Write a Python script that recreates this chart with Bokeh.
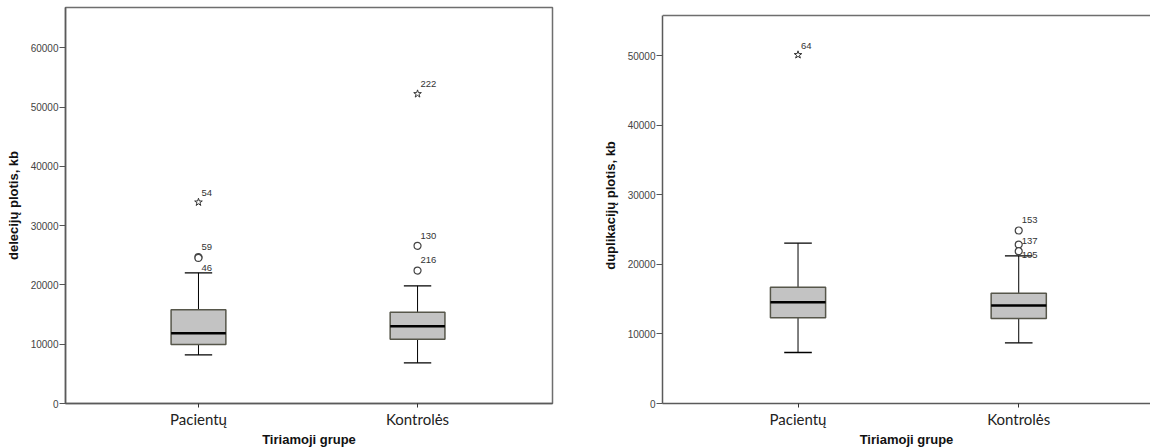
from bokeh.plotting import figure
from bokeh.layouts import row
from bokeh.models import FixedTicker, NumeralTickFormatter, Range1d, ColumnDataSource, Span
from bokeh.core.properties import value
from bokeh.embed import file_html
from bokeh.resources import INLINE

# ---------------- data ----------------
groups = ["Pacientų", "Kontrolės"]
x_title = "Tiriamoji grupe"

del_title = "delecijų plotis, kb"
del_lower = [8200, 6860]
del_q1 = [9950, 10840]
del_median = [11860, 13040]
del_q3 = [15800, 15400]
del_upper = [22050, 19850]
del_out_group = [0, 0, 1, 1]
del_out_value = [24700, 24550, 26600, 22430]
del_out_label = ["59", "46", "130", "216"]
del_ext_group = [0, 1]
del_ext_value = [33950, 52230]
del_ext_label = ["54", "222"]
del_ticks = [0, 10000, 20000, 30000, 40000, 50000, 60000]
del_axis_top = 66800

dup_title = "duplikacijų plotis, kb"
dup_lower = [7330, 8720]
dup_q1 = [12310, 12210]
dup_median = [14550, 14080]
dup_q3 = [16710, 15850]
dup_upper = [23030, 21220]
dup_out_group = [1, 1, 1]
dup_out_value = [24860, 22840, 21880]
dup_out_label = ["153", "137", "105"]
dup_ext_group = [0]
dup_ext_value = [50100]
dup_ext_label = ["64"]
dup_ticks = [0, 10000, 20000, 30000, 40000, 50000]
dup_axis_top = 55750

# ---------------- styling ----------------
# label vertical shift in screen pixels (positive = upward)
label_up = {"59": 10, "46": -10, "130": 10, "216": 11, "54": 9, "222": 10,
            "153": 10, "137": 4, "105": -4, "64": 9}
BOX_W = 0.25
CAP_W = 0.125
AXIS_COL = "#5a5a5a"
FONT = "Liberation Sans"


def make_panel(title, lower, q1, med, q3, upper, og, ov, ol, eg, ev, el, ticks,
               frame_top_val, axis_top, x_start, x_end, width_total, b_left, frame_w, outline=True):
    p = figure(width=width_total, height=448, frame_width=frame_w, frame_height=396,
               output_backend="svg", toolbar_location=None,
               x_range=Range1d(x_start, x_end), y_range=Range1d(0, frame_top_val),
               min_border_left=b_left, min_border_top=7,
               min_border_bottom=45, min_border_right=0)
    p.grid.visible = False
    p.background_fill_color = "white"
    p.border_fill_color = "white"
    if outline:
        p.outline_line_color = "#6e6e6e"
        p.outline_line_width = 1.5
    else:
        p.outline_line_color = None
        p.add_layout(Span(location=axis_top, dimension="width",
                          line_color="#6e6e6e", line_width=1.5))

    xs = [i + 1 for i in range(len(groups))]
    # whiskers
    p.segment(x0=xs, x1=xs, y0=q3, y1=upper, line_color="black", line_width=1)
    p.segment(x0=xs, x1=xs, y0=q1, y1=lower, line_color="black", line_width=1)
    p.segment(x0=[x - CAP_W / 2 for x in xs], x1=[x + CAP_W / 2 for x in xs], y0=upper, y1=upper,
              line_color="black", line_width=1.3)
    p.segment(x0=[x - CAP_W / 2 for x in xs], x1=[x + CAP_W / 2 for x in xs], y0=lower, y1=lower,
              line_color="black", line_width=1.3)
    # boxes
    p.vbar(x=xs, width=BOX_W, bottom=q1, top=q3, fill_color="#c3c3c3",
           line_color="#56564a", line_width=1.5)
    p.segment(x0=[x - BOX_W / 2 for x in xs], x1=[x + BOX_W / 2 for x in xs], y0=med, y1=med,
              line_color="black", line_width=2.6)

    # outliers
    ox = [g + 1 for g in og]
    p.scatter(x=ox, y=ov, marker="circle", size=7, fill_color="white",
              line_color="#444444", line_width=1.2)
    ex = [g + 1 for g in eg]
    p.scatter(x=ex, y=ev, marker="star", size=8, fill_color=None,
              line_color="#333333", line_width=1)

    src = ColumnDataSource(dict(x=ox + ex, y=ov + ev, t=ol + el,
                                dy=[-label_up[t] for t in ol + el]))
    p.text(x="x", y="y", text="t", source=src, x_offset=3, y_offset="dy",
           text_font=value(FONT), text_font_size="9.5px", text_color="#333333",
           text_align="left", text_baseline="middle")

    # x axis
    xa = p.xaxis[0]
    xa.ticker = FixedTicker(ticks=xs)
    xa.major_label_overrides = {x: g for x, g in zip(xs, groups)}
    xa.minor_tick_line_color = None
    xa.major_tick_in = 0
    xa.major_tick_out = 4
    xa.axis_line_color = AXIS_COL
    xa.axis_line_width = 1.5
    xa.major_tick_line_color = "#333333"
    xa.major_label_text_font = "Lato"
    xa.major_label_text_font_size = "15px"
    xa.major_label_text_color = "#222222"
    xa.major_label_standoff = 2
    xa.axis_label = x_title
    xa.axis_label_text_font = FONT
    xa.axis_label_text_font_style = "bold"
    xa.axis_label_text_font_size = "13px"
    xa.axis_label_text_color = "#111111"
    xa.axis_label_standoff = 1

    ya = p.yaxis[0]
    ya.ticker = FixedTicker(ticks=ticks)
    ya.formatter = NumeralTickFormatter(format="0")
    ya.bounds = (0, axis_top)
    ya.minor_tick_line_color = None
    ya.major_tick_in = 0
    ya.major_tick_out = 6
    ya.axis_line_color = AXIS_COL
    ya.axis_line_width = 1.5
    ya.major_tick_line_color = "#555555"
    ya.major_label_text_font = FONT
    ya.major_label_text_font_size = "10px"
    ya.major_label_text_color = "#444444"
    ya.major_label_standoff = 1
    ya.axis_label = title
    ya.axis_label_text_font = FONT
    ya.axis_label_text_font_style = "bold"
    ya.axis_label_text_font_size = "13px"
    ya.axis_label_text_color = "#111111"
    ya.axis_label_standoff = 7
    return p


p1 = make_panel(del_title, del_lower, del_q1, del_median, del_q3, del_upper,
                del_out_group, del_out_value, del_out_label,
                del_ext_group, del_ext_value, del_ext_label, del_ticks,
                frame_top_val=del_axis_top, axis_top=del_axis_top,
                x_start=0.393, x_end=2.616, width_total=560, b_left=65, frame_w=487)
p1.min_border_right = 8

# right panel: frame starts a few pixels above its top border line
dup_frame_top = dup_axis_top * 396 / 388
p2 = make_panel(dup_title, dup_lower, dup_q1, dup_median, dup_q3, dup_upper,
                dup_out_group, dup_out_value, dup_out_label,
                dup_ext_group, dup_ext_value, dup_ext_label, dup_ticks,
                frame_top_val=dup_frame_top, axis_top=dup_axis_top,
                x_start=0.386, x_end=2.597, width_total=590, b_left=102, frame_w=488,
                outline=False)

layout = row(p1, p2)
open("out.html", "w").write(file_html(layout, INLINE))
